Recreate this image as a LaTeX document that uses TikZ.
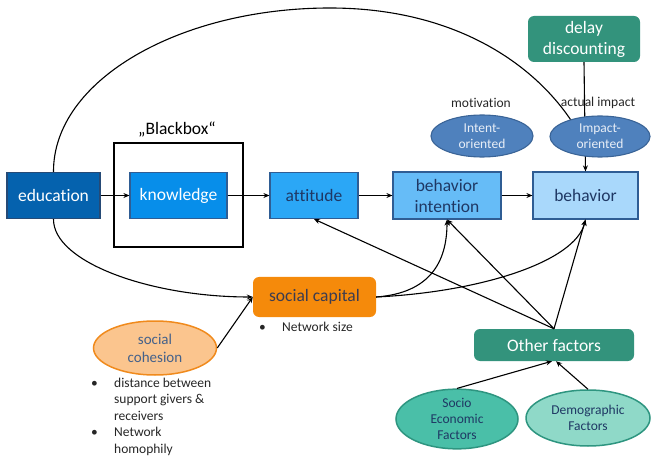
\documentclass[tikz,border=0pt]{standalone}
\usepackage{fontspec}
\setmainfont{Carlito}[Ligatures=NoCommon]
\usetikzlibrary{shapes.geometric,arrows.meta}
\definecolor{cEdu}{HTML}{0562AE}
\definecolor{cKnow}{HTML}{078EEA}
\definecolor{cAtt}{HTML}{2BA7F6}
\definecolor{cBI}{HTML}{66BCF7}
\definecolor{cBeh}{HTML}{A9D8FB}
\definecolor{cBorder}{HTML}{2F5D94}
\definecolor{cNavy}{HTML}{1F3864}
\definecolor{cTeal}{HTML}{33937C}
\definecolor{cOval}{HTML}{4F81BD}
\definecolor{cOvalB}{HTML}{3A6497}
\definecolor{cOvalT}{HTML}{E8EEF7}
\definecolor{cOrange}{HTML}{F58A0B}
\definecolor{cCapT}{HTML}{3C3C50}
\definecolor{cCoh}{HTML}{FBC58E}
\definecolor{cCohB}{HTML}{F08A1C}
\definecolor{cCohT}{HTML}{44618A}
\definecolor{cSocio}{HTML}{4ABFA8}
\definecolor{cDemo}{HTML}{8FD9C8}
\definecolor{cGreenB}{HTML}{2E9580}
\newcommand\fbig{\fontsize{17.5}{21}\selectfont}
\newcommand\fmid{\fontsize{15}{18}\selectfont}
\newcommand\fsmall{\fontsize{13.5}{16.4}\selectfont}
\tikzset{
  box/.style={draw=cBorder, line width=1.2pt, inner sep=0pt, align=center, font=\fbig},
  tealbox/.style={fill=cTeal, rounded corners=6pt, inner sep=0pt, align=center, font=\fbig, text=white},
  oval/.style={ellipse, inner sep=0pt, align=center, font=\fsmall},
  lbl/.style={inner sep=0pt, font=\fsmall, text=black!85},
  arr/.style={line width=1.1pt, -{Stealth[length=6pt,width=5pt]}},
  plain/.style={line width=1.1pt}
}
\begin{document}
\begin{tikzpicture}[x=1pt,y=-1pt]
\useasboundingbox (0,0) rectangle (651,457);
% main chain
\node[box, fill=cEdu, draw=cBorder!80!black, text=white, minimum width=93pt, minimum height=46pt] (edu) at (53.5,195.5) {education};
\node[draw=black, line width=1.8pt, minimum width=129pt, minimum height=104pt, inner sep=0pt] (bb) at (178.5,195) {};
\node[inner sep=0pt, font=\fbig] (bblabel) at (177,130) {„Blackbox“};
\node[box, fill=cKnow, text=white, minimum width=97pt, minimum height=46pt] (know) at (178.5,195.5) {knowledge};
\node[box, fill=cAtt, text=cNavy, minimum width=88pt, minimum height=46pt] (att) at (314,195.5) {attitude};
\node[box, fill=cBI, text=cNavy, minimum width=108pt, minimum height=47pt] (bi) at (447,195.5) {behavior\\intention};
\node[box, fill=cBeh, text=cNavy, minimum width=105pt, minimum height=47pt] (beh) at (585.5,195.5) {behavior};
% delay discounting
\node[tealbox, minimum width=112pt, minimum height=46pt] (delay) at (584,39) {delay\\discounting};
\draw[arr] (delay.south) -- (beh.north);
% ovals
\node[oval, fill=cOval, draw=cOvalB, line width=1.1pt, text=cOvalT, minimum width=102pt, minimum height=42pt] (intent) at (482,136) {Intent-\\oriented};
\node[oval, fill=cOval, draw=cOvalB, line width=1.1pt, text=cOvalT, minimum width=100pt, minimum height=41pt] (impact) at (600,136.5) {Impact-\\oriented};
\node[lbl] (motiv) at (481,103) {motivation};
\node[lbl] (actual) at (598,103) {actual impact};
% social capital
\node[fill=cOrange, rounded corners=6pt, inner sep=0pt, font=\fbig, text=cCapT, minimum width=123pt, minimum height=40pt] (sc) at (314.5,297) {social capital};
\node[lbl, anchor=west] (nsize) at (259,327) {\makebox[23pt][l]{•}Network size};
% social cohesion
\node[oval, fill=cCoh, draw=cCohB, line width=1.5pt, font=\fmid, text=cCohT, minimum width=123pt, minimum height=54pt] (coh) at (155,348) {social\\cohesion};
\node[lbl, anchor=north west, align=left] (cohlist) at (91,378) {\makebox[23pt][l]{•}distance between\\\hspace*{23pt}support givers \&\\\hspace*{23pt}receivers\\\makebox[23pt][l]{•}Network\\\hspace*{23pt}homophily};
% other factors
\node[tealbox, minimum width=160pt, minimum height=32pt] (other) at (554,345) {Other factors};
\node[oval, fill=cSocio, draw=cGreenB, line width=1.5pt, text=cNavy, minimum width=122pt, minimum height=55pt] (socio) at (457,419) {Socio\\Economic\\Factors};
\node[oval, fill=cDemo, draw=cGreenB, line width=1.5pt, text=cNavy, minimum width=124pt, minimum height=56pt] (demo) at (588,418) {Demographic\\Factors};
% connectors
\draw[arr] (edu) -- (know);
\draw[arr] (know) -- (att);
\draw[arr] (att) -- (bi);
\draw[arr] (bi) -- (beh);
\draw[plain] (edu.north) .. controls (53,80) and (180,8) .. (330,8) .. controls (450,8) and (530,60) .. (impact.150);
\draw[arr] (edu.south) .. controls (53,262) and (150,297) .. (sc.west);
\draw[arr] (coh.east) -- (sc.west);
\draw[arr] (sc.east) .. controls (430,293) and (447,262) .. (bi.south);
\draw[arr] (sc.east) .. controls (480,292) and (575,262) .. (beh.south);
\draw[arr] (other.north) -- (att.south);
\draw[arr] (other.north) -- (bi.south);
\draw[arr] (other.north) -- (beh.south);
\draw[arr] (socio.north) -- ([xshift=-2pt]other.south);
\draw[arr] (demo.north) -- ([xshift=2pt]other.south);
\end{tikzpicture}
\end{document}
